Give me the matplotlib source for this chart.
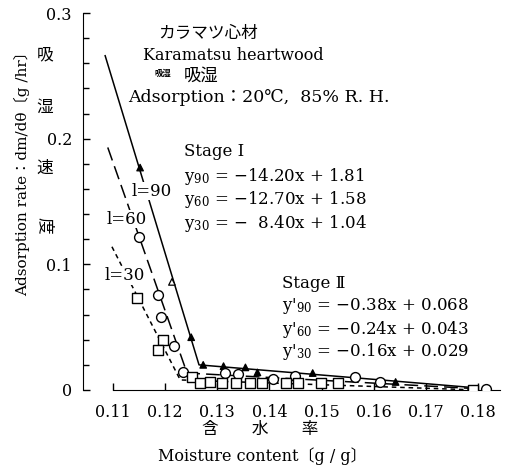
import numpy as np
import matplotlib.pyplot as plt

plt.rcParams['font.family'] = ['DejaVu Serif', 'Noto Sans CJK JP']
plt.rcParams['mathtext.fontset'] = 'dejavuserif'

# fitted lines (stage I -> knee -> stage II)
x90_line = [0.1085, 0.1265, 0.1800]
y90_line = [0.266, 0.020, 0.0016]
x60_line = [0.1090, 0.1242, 0.1800]
y60_line = [0.193, 0.0135, 0.0010]
x30_line = [0.1098, 0.1229, 0.1800]
y30_line = [0.114, 0.0080, 0.0000]

# measured points
x90 = [0.1152, 0.1213, 0.1250, 0.1273, 0.1312, 0.1354, 0.1377, 0.1483, 0.1642]
y90 = [0.177, 0.086, 0.042, 0.020, 0.019, 0.018, 0.014, 0.0135, 0.0064]
fill90 = [True, False, True, True, True, True, True, True, True]

x60 = [0.1150, 0.1187, 0.1192, 0.1217, 0.1235, 0.1315, 0.1340, 0.1406, 0.1450,
       0.1565, 0.1613, 0.1815]
y60 = [0.122, 0.0756, 0.058, 0.035, 0.0143, 0.0135, 0.0127, 0.0088, 0.011,
       0.0103, 0.0064, 0.0008]

x30 = [0.1146, 0.1196, 0.1187, 0.1252, 0.1267, 0.1287, 0.1310, 0.1335, 0.1363,
       0.1385, 0.1431, 0.1454, 0.1498, 0.1531, 0.1790]
y30 = [0.073, 0.040, 0.032, 0.0103, 0.0056, 0.0064, 0.0056, 0.0056, 0.0056,
       0.0056, 0.0056, 0.0056, 0.0056, 0.0056, 0.0000]

xticks = [0.11, 0.12, 0.13, 0.14, 0.15, 0.16, 0.17, 0.18]
yticks = [0, 0.1, 0.2, 0.3]
ytick_labels = ['0', '0.1', '0.2', '0.3']

W, H = 511, 466
fig = plt.figure(figsize=(W / 100, H / 100), dpi=100)
ax = fig.add_axes([83 / W, 1 - 390 / H, (500 - 83) / W, (390 - 13) / H])

ax.plot(x90_line, y90_line, color='black', lw=1.1)
ax.plot(x60_line, y60_line, color='black', lw=1.1, dashes=(9, 4))
ax.plot(x30_line, y30_line, color='black', lw=1.1, dashes=(3, 2.5))

fc90 = ['black' if f else 'white' for f in fill90]
ax.scatter(x90, y90, marker='^', s=22, facecolors=fc90, edgecolors='black',
           linewidths=0.9, zorder=3)
ax.scatter(x60, y60, marker='o', s=50, facecolors='white', edgecolors='black',
           linewidths=1.0, zorder=3)
ax.scatter(x30, y30, marker='s', s=45, facecolors='white', edgecolors='black',
           linewidths=1.0, zorder=3)

ax.set_xlim(0.10425, 0.18422)
ax.set_ylim(0, 0.3)
for s in ['top', 'right']:
    ax.spines[s].set_visible(False)
ax.spines['bottom'].set_bounds(0.11, 0.18422)
ax.set_xticks(xticks)
ax.set_xticklabels(['%.2f' % v for v in xticks])
ax.set_yticks(yticks)
ax.set_yticklabels(ytick_labels)
ax.set_yticks(np.arange(0, 0.3, 0.02), minor=True)
ax.tick_params(direction='in', length=5, width=1, labelsize=11.5, pad=8)
ax.tick_params(which='minor', direction='in', length=4, width=1)
ax.tick_params(axis='x', pad=10)

def ftext(px, py, s, **kw):
    fig.text(px / W, 1 - py / H, s, **kw)

ftext(208, 33, 'カラマツ心材', fontsize=12, ha='center', va='center')
ftext(233, 55, 'Karamatsu heartwood', fontsize=11.5, ha='center', va='center')
ftext(163, 74, '吸湿', fontsize=6, weight='bold', ha='center', va='center')
ftext(201, 76, '吸湿', fontsize=12.5, ha='center', va='center')
ftext(128, 97, 'Adsorption：20℃,  85% R. H.', fontsize=12.5, ha='left', va='center')

ftext(184, 152, 'Stage Ⅰ', fontsize=12, ha='left', va='center')
ftext(184, 176, 'y$_{90}$ = −14.20x + 1.81', fontsize=12, ha='left', va='center')
ftext(184, 200, 'y$_{60}$ = −12.70x + 1.58', fontsize=12, ha='left', va='center')
ftext(184, 224, 'y$_{30}$ = −  8.40x + 1.04', fontsize=12, ha='left', va='center')

ftext(282, 283, 'Stage Ⅱ', fontsize=12, ha='left', va='center')
ftext(282, 306, "y'$_{90}$ = −0.38x + 0.068", fontsize=12, ha='left', va='center')
ftext(282, 329, "y'$_{60}$ = −0.24x + 0.043", fontsize=12, ha='left', va='center')
ftext(282, 352, "y'$_{30}$ = −0.16x + 0.029", fontsize=12, ha='left', va='center')

box = dict(facecolor='white', edgecolor='none', pad=0.5)
ftext(152, 191, 'l=90', fontsize=12, ha='center', va='center', bbox=box, zorder=5)
ftext(127, 219, 'l=60', fontsize=12, ha='center', va='center', bbox=box, zorder=5)
ftext(125, 276, 'l=30', fontsize=12, ha='center', va='center', bbox=box, zorder=5)

ftext(22, 170, 'Adsorption rate：dm/dθ〔g /hr〕', fontsize=11,
      rotation=90, ha='center', va='center')
for py, ch, rot in [(55, '吸', 0), (107, '湿', 0), (168, '速', 0), (225, '度', -90)]:
    ftext(45, py, ch, fontsize=12, rotation=rot, ha='center', va='center')

ftext(260, 429, '含　　水　　率', fontsize=12, ha='center', va='center')
ftext(262, 456, 'Moisture content〔g / g〕', fontsize=11.5, ha='center', va='center')

fig.savefig('out.png', dpi=100)
